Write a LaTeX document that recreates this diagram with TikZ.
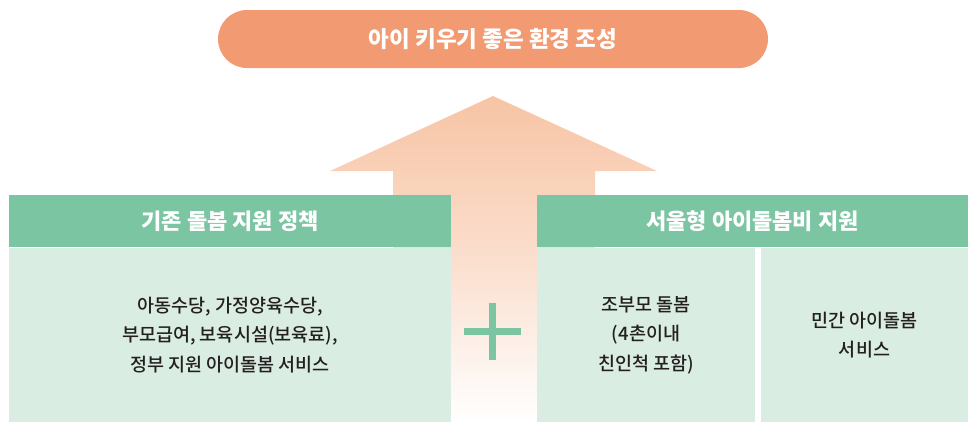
\documentclass[tikz,border=0pt]{standalone}
\usepackage{fontspec}
\setmainfont{Noto Sans CJK KR}
\newfontfamily\medfont{Noto Sans CJK KR Medium}
\definecolor{pillc}{HTML}{F29A72}
\definecolor{hdrc}{HTML}{7BC5A3}
\definecolor{bodyc}{HTML}{DAEDE2}
\definecolor{arrc}{HTML}{F7C4A5}
\definecolor{txtc}{HTML}{231F20}
\begin{document}
\begin{tikzpicture}[x=1pt,y=-1pt,
  pill/.style={fill=pillc,draw=none,rounded corners=29pt,minimum width=550pt,minimum height=58pt,inner sep=0pt,text=white,font=\bfseries\fontsize{22.5}{26}\selectfont},
  hdr/.style={fill=hdrc,draw=none,minimum height=52pt,inner sep=0pt,text=white,font=\bfseries\fontsize{22}{26}\selectfont},
  bodybox/.style={fill=bodyc,draw=none,minimum height=174pt,inner sep=0pt,text=txtc,align=center,font=\medfont\fontsize{18.5}{29.5}\selectfont},
  plusbar/.style={draw=hdrc,line width=7pt}]
\useasboundingbox (0,0) rectangle (968,421);
% arrow
\shade[top color=arrc,bottom color=white,middle color=arrc!55]
  (493,96) -- (657,171) -- (595,171) -- (595,421) -- (393,421) -- (393,171) -- (330,171) -- cycle;
\node[pill] (goal) at (493,39) {아이 키우기 좋은 환경 조성};
% left
\node[hdr,minimum width=442pt] (lhdr) at (230,221) {기존 돌봄 지원 정책};
\node[bodybox,minimum width=442pt] (lbody) at (230,335) {아동수당, 가정양육수당,\\부모급여, 보육시설(보육료),\\정부 지원 아이돌봄 서비스};
% right
\node[hdr,minimum width=431pt] (rhdr) at (752.5,221) {서울형 아이돌봄비 지원};
\node[bodybox,minimum width=218pt] (rbody1) at (646,335) {조부모 돌봄\\(4촌이내\\친인척 포함)};
\node[bodybox,minimum width=207pt] (rbody2) at (864.5,335) {민간 아이돌봄\\서비스};
% plus
\coordinate (pt) at (492.5,303);
\coordinate (pb) at (492.5,360);
\coordinate (pl) at (464,331.5);
\coordinate (pr) at (521,331.5);
\draw[plusbar] (pt) -- (pb);
\draw[plusbar] (pl) -- (pr);
\end{tikzpicture}
\end{document}
